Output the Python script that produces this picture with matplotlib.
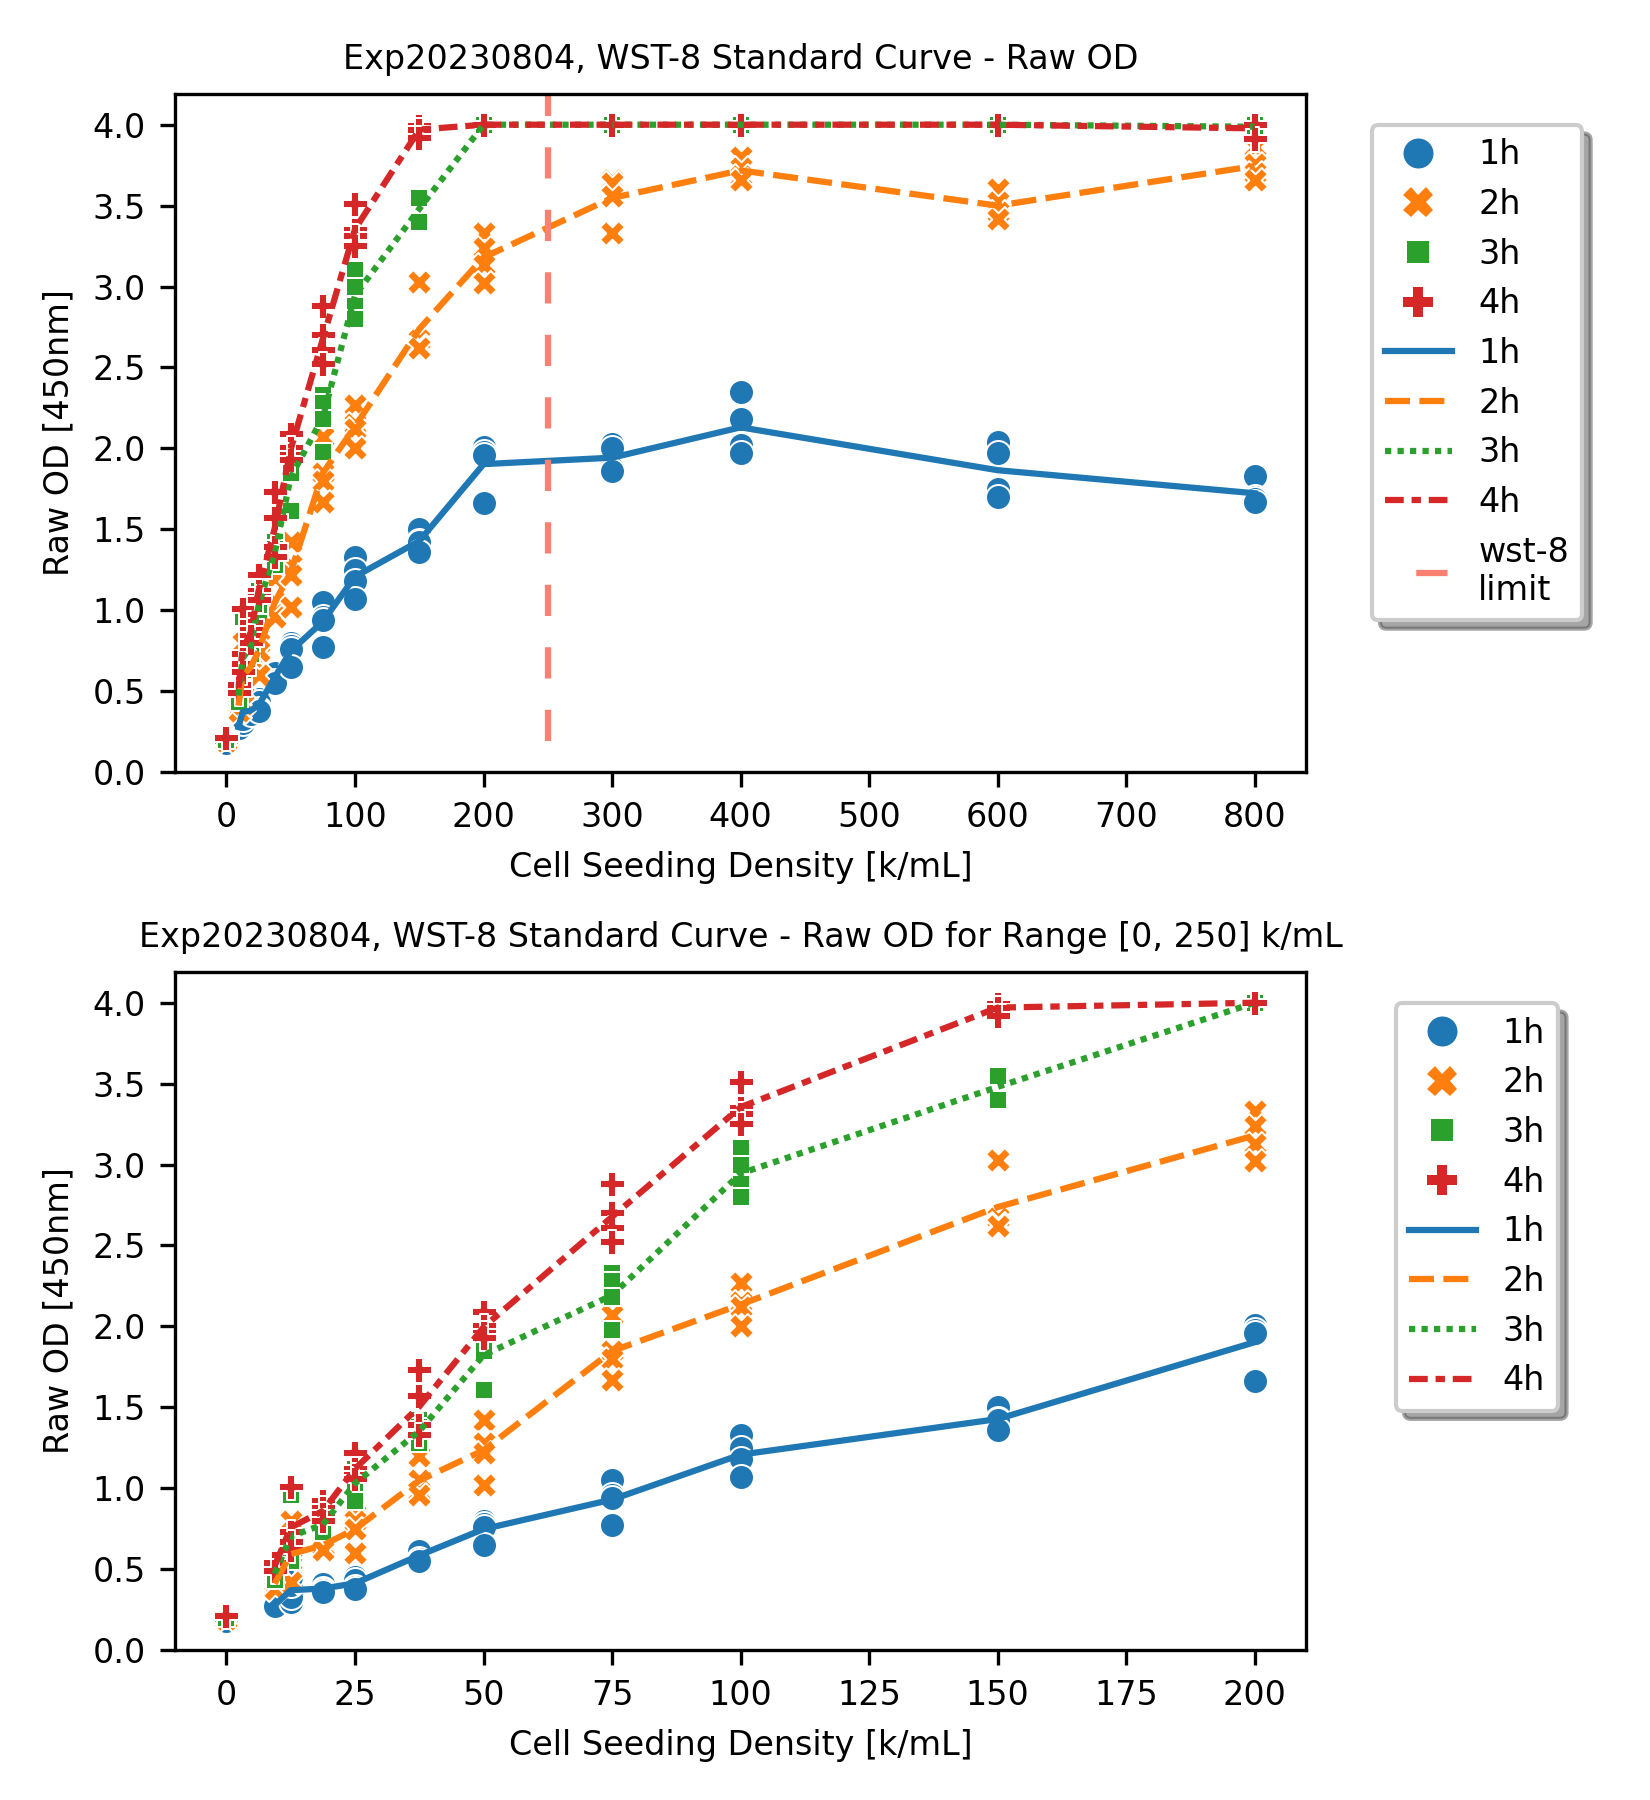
import numpy as np
import matplotlib
matplotlib.use("Agg")
import matplotlib.pyplot as plt
from matplotlib.lines import Line2D

# cell seeding density [k/mL], 0 = blank
conc = [0, 9.375, 12.5, 18.75, 25, 37.5, 50, 75, 100, 150, 200, 300, 400, 600, 800]
times = ["1h", "2h", "3h", "4h"]

# raw OD (450nm), 4 replicates per density
od_1h = [[0.19, 0.18, 0.19, 0.18], [0.27, 0.28, 0.29, 0.27], [0.30, 0.33, 0.40, 0.45],
         [0.41, 0.38, 0.37, 0.36], [0.45, 0.43, 0.39, 0.38], [0.62, 0.61, 0.56, 0.55],
         [0.80, 0.78, 0.76, 0.65], [1.05, 0.96, 0.94, 0.77], [1.33, 1.25, 1.18, 1.07],
         [1.50, 1.43, 1.42, 1.36], [2.01, 1.98, 1.96, 1.66], [2.03, 2.00, 1.88, 1.86],
         [2.35, 2.18, 2.02, 1.97], [2.04, 1.97, 1.75, 1.70], [1.83, 1.70, 1.69, 1.67]]
od_2h = [[0.20, 0.19, 0.20, 0.19], [0.44, 0.40, 0.42, 0.38], [0.80, 0.60, 0.55, 0.42],
         [0.67, 0.66, 0.64, 0.62], [0.84, 0.80, 0.75, 0.60], [1.20, 1.05, 0.98, 0.96],
         [1.42, 1.28, 1.22, 1.02], [2.07, 1.85, 1.80, 1.67], [2.27, 2.15, 2.12, 2.00],
         [3.03, 2.67, 2.63, 2.62], [3.33, 3.24, 3.13, 3.02], [3.66, 3.64, 3.56, 3.33],
         [3.80, 3.73, 3.68, 3.66], [3.60, 3.52, 3.46, 3.42], [3.86, 3.76, 3.70, 3.66]]
od_3h = [[0.21, 0.20, 0.21, 0.20], [0.53, 0.48, 0.45, 0.43], [0.96, 0.70, 0.60, 0.55],
         [0.85, 0.78, 0.74, 0.73], [1.12, 1.08, 1.00, 0.92], [1.42, 1.38, 1.33, 1.28],
         [1.95, 1.88, 1.85, 1.61], [2.33, 2.28, 2.18, 1.98], [3.10, 3.00, 2.88, 2.80],
         [3.56, 3.55, 3.41, 3.40], [4.00, 4.00, 4.00, 4.00], [4.00, 4.00, 4.00, 4.00],
         [4.00, 4.00, 4.00, 4.00], [4.00, 4.00, 4.00, 4.00], [4.00, 4.00, 4.00, 3.95]]
od_4h = [[0.23, 0.22, 0.22, 0.21], [0.55, 0.50, 0.54, 0.49], [1.01, 0.73, 0.67, 0.62],
         [0.92, 0.88, 0.84, 0.80], [1.22, 1.12, 1.08, 1.06], [1.73, 1.57, 1.39, 1.33],
         [2.09, 2.00, 1.96, 1.93], [2.88, 2.70, 2.61, 2.52], [3.51, 3.35, 3.31, 3.25],
         [4.00, 3.99, 3.97, 3.92], [4.00, 4.00, 4.00, 4.00], [4.00, 4.00, 4.00, 4.00],
         [4.00, 4.00, 4.00, 4.00], [4.00, 4.00, 4.00, 4.00], [4.00, 4.00, 4.00, 3.91]]

wst8_limit = 250

colors = ["#1f77b4", "#ff7f0e", "#2ca02c", "#d62728"]
markers = ["o", "X", (4, 0, 45), "P"]
dashes = [(None, None), (4, 1.5), (1, 1), (3, 1.25, 1.5, 1.25)]

plt.rcParams["font.size"] = 8

conc = np.array(conc)
data = [np.array(od_1h), np.array(od_2h), np.array(od_3h), np.array(od_4h)]

fig = plt.figure(figsize=(5.5, 6), dpi=300)
ax1 = fig.add_axes([0.1061, 0.5711, 0.6855, 0.3767])
ax2 = fig.add_axes([0.1061, 0.0833, 0.6855, 0.3767])


def draw(ax, xmax):
    keep = conc <= xmax
    for i, od in enumerate(data):
        x = np.repeat(conc[keep], od.shape[1])
        y = od[keep].ravel()
        ax.scatter(x, y, s=36, marker=markers[i], color=colors[i],
                   edgecolor="white", linewidth=0.48)
    # mean line, blanks left out
    line_keep = keep & (conc > 0)
    for i, od in enumerate(data):
        ln, = ax.plot(conc[line_keep], od[line_keep].mean(axis=1),
                      color=colors[i], lw=1.5)
        if i > 0:
            ln.set_dashes(dashes[i])
    ax.set_ylim(0, 4.19)
    ax.set_ylabel("Raw OD [450nm]")
    ax.set_xlabel("Cell Seeding Density [k/mL]")


def legend_handles():
    h = []
    for i, t in enumerate(times):
        h.append(Line2D([], [], ls="none", marker=markers[i], color=colors[i],
                        markersize=7.2, markeredgewidth=0, label=t))
    for i, t in enumerate(times):
        ln = Line2D([], [], color=colors[i], lw=1.5, label=t)
        if i > 0:
            ln.set_dashes(dashes[i])
        h.append(ln)
    return h


# top: full range
draw(ax1, 800)
ax1.vlines(wst8_limit, 0.19, 4.4, colors="salmon", lw=1.5, linestyles=(0, (5, 5)))
ax1.set_xlim(-40, 840)
ax1.set_xticks(np.arange(0, 801, 100))
ax1.set_title("Exp20230804, WST-8 Standard Curve - Raw OD", fontsize=8)
h = legend_handles()
h.append(Line2D([], [], color="salmon", lw=1.5, ls=(5, (5, 5)), label="wst-8\nlimit"))
ax1.legend(handles=h, loc="upper center", bbox_to_anchor=(1.151, 0.954),
           borderaxespad=0, shadow=True)

# bottom: zoom to [0, 250]
draw(ax2, 250)
ax2.set_xlim(-10, 210)
ax2.set_xticks(np.arange(0, 201, 25))
ax2.set_title("Exp20230804, WST-8 Standard Curve - Raw OD for Range [0, 250] k/mL",
              fontsize=8)
ax2.legend(handles=legend_handles(), loc="upper center", bbox_to_anchor=(1.151, 0.954),
           borderaxespad=0, shadow=True)

fig.savefig("out.png", dpi=300)
